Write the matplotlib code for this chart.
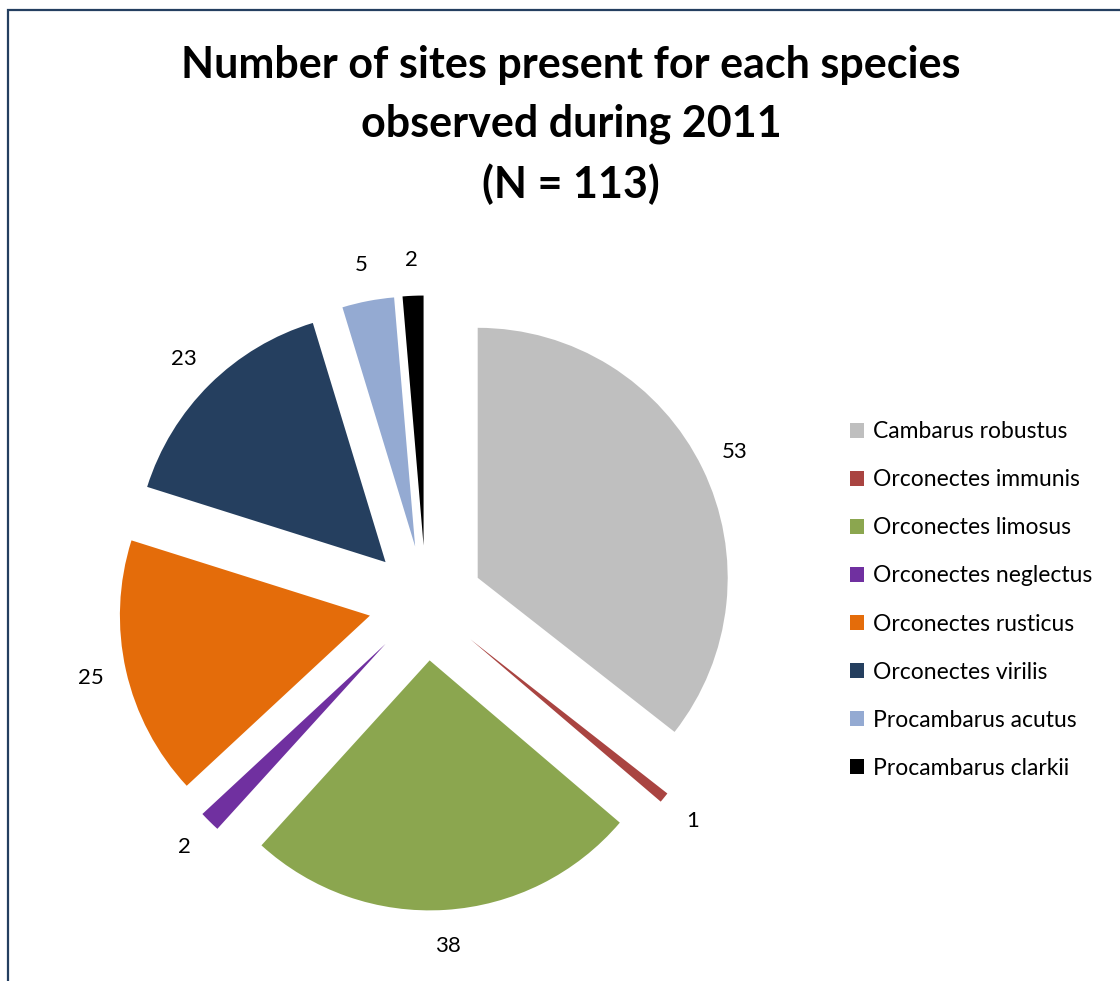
import matplotlib
matplotlib.use("Agg")
import matplotlib.pyplot as plt
from matplotlib.patches import Rectangle

# DATA
species = ["Cambarus robustus", "Orconectes immunis", "Orconectes limosus",
           "Orconectes neglectus", "Orconectes rusticus", "Orconectes virilis",
           "Procambarus acutus", "Procambarus clarkii"]
sites = [53, 1, 38, 2, 25, 23, 5, 2]
colors = ["#BFBFBF", "#A94441", "#8BA64F", "#7030A0",
          "#E46C0A", "#253F5F", "#94AAD2", "#000000"]
title = "Number of sites present for each species\nobserved during 2011\n(N = 113)"

plt.rcParams['font.family'] = ['Lato', 'DejaVu Sans']

W, H = 1120, 981
fig = plt.figure(figsize=(W / 100, H / 100), dpi=100)

# pie axes: centre at (426, 603) px, 250 px per unit
cx, cy, half = 426, 603, 375
ax = fig.add_axes([(cx - half) / W, (H - cy - half) / H, 2 * half / W, 2 * half / H])
wedges, texts = ax.pie(sites, colors=colors, startangle=90, counterclock=False,
                       explode=[0.23] * len(sites), labels=[str(v) for v in sites],
                       labeldistance=1.145,
                       textprops=dict(ha='center', va='center', fontsize=16),
                       wedgeprops=dict(linewidth=0))
ax.set_xlim(-1.5, 1.5)
ax.set_ylim(-1.5, 1.5)
ax.axis('off')

fig.text(571 / W, 1 - 125 / H, title, ha='center', va='center',
         fontsize=31, fontweight='bold', linespacing=1.55)

fig.legend(wedges, species, loc='center left', bbox_to_anchor=(850 / W, 1 - 600 / H),
           frameon=False, fontsize=16.5, handlelength=0.6, handleheight=0.6,
           handletextpad=0.4, labelspacing=1.18, borderpad=0, borderaxespad=0)

# chart border
fig.patches.append(Rectangle((7.5 / W, -0.05), 1.2, 1 - 9.5 / H + 0.05,
                             transform=fig.transFigure, fill=False,
                             edgecolor="#243F60", linewidth=1.6))

fig.savefig("out.png", dpi=100)
